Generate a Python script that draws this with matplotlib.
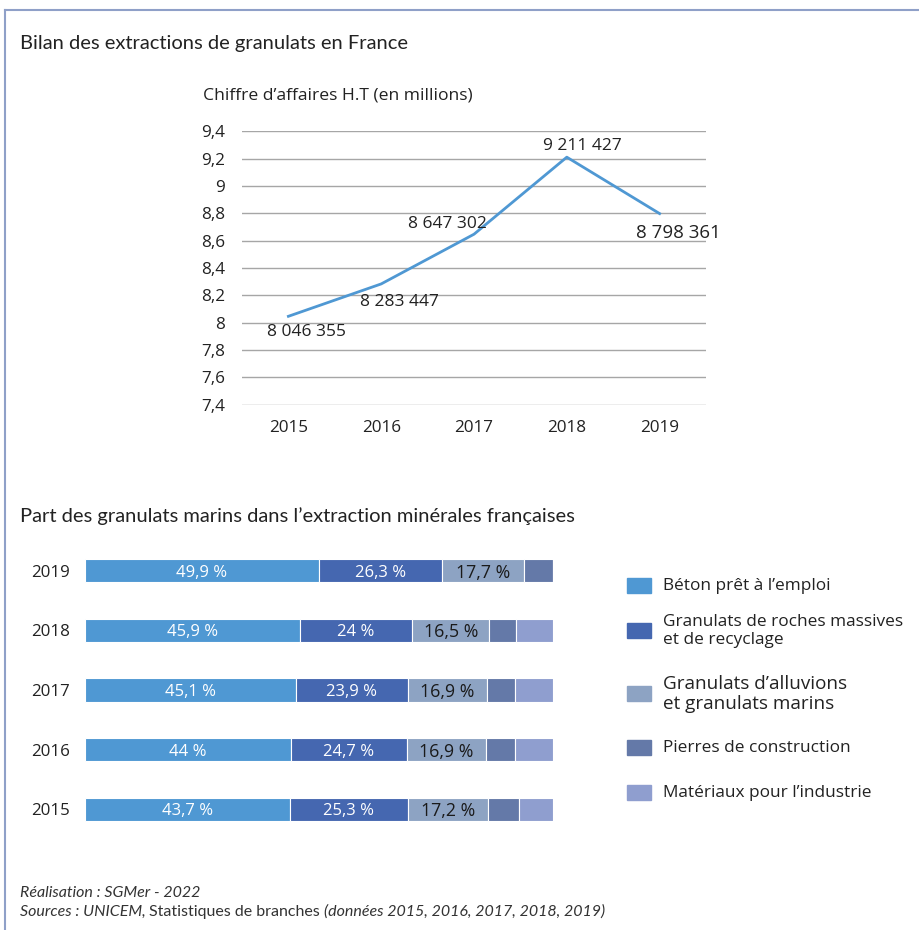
import matplotlib
matplotlib.use("Agg")
import matplotlib.pyplot as plt
from matplotlib.patches import Rectangle
from matplotlib.lines import Line2D

plt.rcParams['font.family'] = ['Open Sans', 'DejaVu Sans']

# line chart data (millions)
years = ['2015', '2016', '2017', '2018', '2019']
ca = [8.046355, 8.283447, 8.647302, 9.211427, 8.798361]
ca_labels = ['8 046 355', '8 283 447', '8 647 302', '9 211 427', '8 798 361']
label_offsets = [(18, -16), (18, -18), (-27, 10), (16, 11), (19, -19)]

# stacked bar data (%)
bar_years = ['2019', '2018', '2017', '2016', '2015']
beton = [49.9, 45.9, 45.1, 44.0, 43.7]
roches = [26.3, 24.0, 23.9, 24.7, 25.3]
alluvions = [17.7, 16.5, 16.9, 16.9, 17.2]
pierres = [6.1, 5.7, 5.9, 6.2, 6.5]
materiaux = [0.0, 7.9, 8.2, 8.2, 7.3]

categories = ['Béton prêt à l\u2019emploi',
              'Granulats de roches massives\net de recyclage',
              'Granulats d\u2019alluvions\net granulats marins',
              'Pierres de construction',
              'Matériaux pour l\u2019industrie']
colors = ['#4f98d3', '#4567b0', '#8da3c3', '#6479a8', '#8f9ecf']

fig = plt.figure(figsize=(9.2, 9.3), dpi=100)
W, H = 920, 930

def fx(px):
    return px / W

def fy(py):
    return 1 - py / H

# frame lines (top and left)
fig.add_artist(Line2D([fx(5), 1], [fy(10), fy(10)], color='#8fa0c8', lw=1.5))
fig.add_artist(Line2D([fx(5), fx(5)], [fy(10), 0], color='#8fa0c8', lw=1.5))

title_font = ['Lato', 'DejaVu Sans']
fig.text(fx(20), fy(44), 'Bilan des extractions de granulats en France',
         fontsize=14.5, family=title_font, color='#222222', va='center')
fig.text(fx(203), fy(96), 'Chiffre d\u2019affaires H.T (en millions)',
         fontsize=12.6, color='#222222', va='center')
fig.text(fx(20), fy(516), 'Part des granulats marins dans l\u2019extraction minérales françaises',
         fontsize=14.5, family=title_font, color='#222222', va='center')

# ---- line chart ----
ax1 = fig.add_axes([fx(242), fy(405), fx(706) - fx(242), fy(131) - fy(405)])
x = list(range(len(years)))
ax1.plot(x, ca, color='#4f98d3', lw=2)
ax1.set_xlim(-0.5, 4.5)
ax1.set_ylim(7.397, 9.403)
yt = [7.4, 7.6, 7.8, 8.0, 8.2, 8.4, 8.6, 8.8, 9.0, 9.2, 9.4]
ax1.set_yticks(yt)
ax1.set_yticklabels([('%g' % v).replace('.', ',') for v in yt])
ax1.set_xticks(x)
ax1.set_xticklabels(years)
ax1.grid(axis='y', color='#a6a6a6', lw=1)
ax1.set_axisbelow(True)
for s in ax1.spines.values():
    s.set_visible(False)
ax1.tick_params(length=0, labelsize=12.3, colors='#222222', pad=12)
ax1.tick_params(axis='x', pad=11)
for i, (lab, off) in enumerate(zip(ca_labels, label_offsets)):
    big = i == len(ca) - 1
    ax1.annotate(lab, (x[i], ca[i]), xytext=off, textcoords='offset pixels',
                 ha='center', va='center', fontsize=13.5 if big else 12.5,
                 color='#222222')

# ---- stacked bars ----
ax2 = fig.add_axes([fx(85), fy(839), fx(553) - fx(85), fy(541) - fy(839)])
series = [beton, roches, alluvions, pierres, materiaux]
ypos = list(range(len(bar_years)))[::-1]
left = [0.0] * len(bar_years)
for k, (vals, c) in enumerate(zip(series, colors)):
    ax2.barh(ypos, vals, left=left, height=0.39, color=c, edgecolor='white', lw=0.8)
    if k < 3:
        for yy, l, v in zip(ypos, left, vals):
            txt = ('%g' % v).replace('.', ',') + ' %'
            ax2.text(l + v / 2, yy, txt, ha='center', va='center_baseline',
                     color='white' if k < 2 else '#1a1a1a',
                     fontsize=12 if k < 2 else 12.8,
                     weight='normal' if k < 2 else 'medium')
    left = [a + b for a, b in zip(left, vals)]
ax2.set_xlim(0, 100)
ax2.set_ylim(-0.5, 4.5)
ax2.set_yticks(ypos)
ax2.set_yticklabels(bar_years)
ax2.set_xticks([])
for s in ax2.spines.values():
    s.set_visible(False)
ax2.tick_params(length=0, labelsize=12.2, colors='#222222', pad=11)

# legend
leg_y = [586, 631, 694, 748, 793]
for i, (name, c, yy) in enumerate(zip(categories, colors, leg_y)):
    fig.add_artist(Rectangle((fx(627), fy(yy + 7)), fx(24), 15 / H, color=c))
    fig.text(fx(663), fy(yy), name, va='center', ha='left', linespacing=1.1,
             fontsize=13.6 if i == 2 else 12.4, color='#222222')

# footer with mixed styles
foot_font = ['Lato', 'DejaVu Sans']
fig.text(fx(20), fy(893), 'Réalisation : SGMer - 2022', style='italic',
         fontsize=11.5, family=foot_font, color='#333333', va='center')
renderer = fig.canvas.get_renderer()
parts = [('Sources : UNICEM, ', 'italic'), ('Statistiques de branches ', 'normal'),
         ('(données 2015, 2016, 2017, 2018, 2019)', 'italic')]
xcur = fx(20)
for txt, st in parts:
    t = fig.text(xcur, fy(912), txt, style=st, fontsize=11.5, family=foot_font,
                 color='#333333', va='center')
    bb = t.get_window_extent(renderer)
    xcur += bb.width / W

fig.savefig('out.png', dpi=100, facecolor='white')
